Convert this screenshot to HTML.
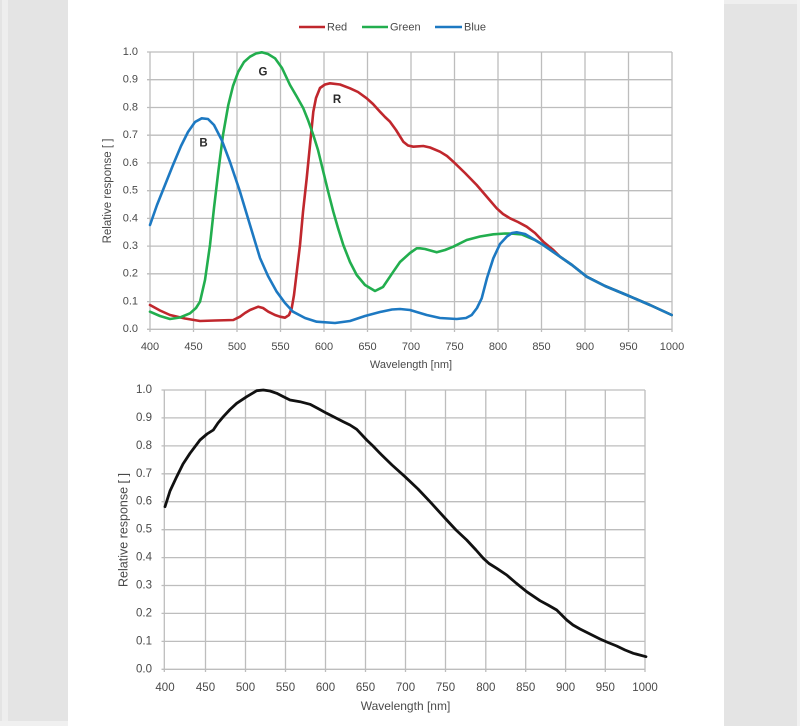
<!DOCTYPE html>
<html><head><meta charset="utf-8"><style>
html,body{margin:0;padding:0;background:#fff;}
svg{display:block;}
text{font-family:"Liberation Sans",Arial,sans-serif;fill:#4a4a4a;}
</style></head><body>
<svg width="800" height="726" viewBox="0 0 800 726" xmlns="http://www.w3.org/2000/svg">
<rect x="0" y="0" width="800" height="726" fill="#fff"/>
<!-- side bars -->
<rect x="0" y="0" width="68" height="726" fill="#e4e4e4"/>
<rect x="2" y="0" width="6" height="726" fill="#eeeeee"/>
<rect x="0" y="721" width="68" height="5" fill="#f0f0f0"/>
<rect x="724" y="0" width="76" height="726" fill="#e4e4e4"/>
<rect x="724" y="0" width="76" height="4" fill="#efefef"/>
<rect x="797" y="0" width="3" height="726" fill="#f2f2f2"/>

<!-- TOP CHART grid -->
<g stroke="#bdbdbd" stroke-width="1.3" fill="none">
<line x1="147" y1="52" x2="672" y2="52"/>
<line x1="147" y1="79.7" x2="672" y2="79.7"/>
<line x1="147" y1="107.5" x2="672" y2="107.5"/>
<line x1="147" y1="135.2" x2="672" y2="135.2"/>
<line x1="147" y1="162.9" x2="672" y2="162.9"/>
<line x1="147" y1="190.7" x2="672" y2="190.7"/>
<line x1="147" y1="218.4" x2="672" y2="218.4"/>
<line x1="147" y1="246.1" x2="672" y2="246.1"/>
<line x1="147" y1="273.8" x2="672" y2="273.8"/>
<line x1="147" y1="301.6" x2="672" y2="301.6"/>
<line x1="147" y1="329.3" x2="672" y2="329.3"/>
<line x1="150" y1="52" x2="150" y2="332"/>
<line x1="193.5" y1="52" x2="193.5" y2="332"/>
<line x1="237" y1="52" x2="237" y2="332"/>
<line x1="280.5" y1="52" x2="280.5" y2="332"/>
<line x1="324" y1="52" x2="324" y2="332"/>
<line x1="367.5" y1="52" x2="367.5" y2="332"/>
<line x1="411" y1="52" x2="411" y2="332"/>
<line x1="454.5" y1="52" x2="454.5" y2="332"/>
<line x1="498" y1="52" x2="498" y2="332"/>
<line x1="541.5" y1="52" x2="541.5" y2="332"/>
<line x1="585" y1="52" x2="585" y2="332"/>
<line x1="628.5" y1="52" x2="628.5" y2="332"/>
<line x1="672" y1="52" x2="672" y2="332"/>
</g>
<g font-size="11" text-anchor="end" dominant-baseline="middle">
<text x="138" y="52">1.0</text>
<text x="138" y="79.7">0.9</text>
<text x="138" y="107.5">0.8</text>
<text x="138" y="135.2">0.7</text>
<text x="138" y="162.9">0.6</text>
<text x="138" y="190.7">0.5</text>
<text x="138" y="218.4">0.4</text>
<text x="138" y="246.1">0.3</text>
<text x="138" y="273.8">0.2</text>
<text x="138" y="301.6">0.1</text>
<text x="138" y="329.3">0.0</text>
</g>
<g font-size="11" text-anchor="middle" dominant-baseline="middle">
<text x="150" y="347">400</text>
<text x="193.5" y="347">450</text>
<text x="237" y="347">500</text>
<text x="280.5" y="347">550</text>
<text x="324" y="347">600</text>
<text x="367.5" y="347">650</text>
<text x="411" y="347">700</text>
<text x="454.5" y="347">750</text>
<text x="498" y="347">800</text>
<text x="541.5" y="347">850</text>
<text x="585" y="347">900</text>
<text x="628.5" y="347">950</text>
<text x="672" y="347">1000</text>
<text x="411" y="365">Wavelength [nm]</text>
<text x="0" y="0" transform="translate(108,191) rotate(-90)" font-size="11.5">Relative response [ ]</text>
</g>
<!-- legend -->
<g stroke-width="2.6" fill="none">
<line x1="299" y1="27" x2="325" y2="27" stroke="#c0272d"/>
<line x1="362" y1="27" x2="388" y2="27" stroke="#22ae4e"/>
<line x1="435" y1="27" x2="462" y2="27" stroke="#1d79c2"/>
</g>
<g font-size="11" dominant-baseline="middle">
<text x="327" y="27.5">Red</text>
<text x="390" y="27.5">Green</text>
<text x="464" y="27.5">Blue</text>
</g>
<!-- curves -->
<g fill="none" stroke-width="2.6" stroke-linejoin="round" stroke-linecap="round">
<polyline stroke="#c0272d" points="150,305 160,310.5 170,315 185,318.5 200,321 215,320.5 233.3,320 240,316.7 245,313 250,310 258.3,306.7 263,308 268.3,311.7 275,315 280,316.7 285,317.7 289,315 291.7,308.3 294,295 297,270 300,245 303,212 306.7,178.3 310,145 313.3,111.7 316,98 320,88 325,84.5 330,83.3 340,84.5 350,88.3 358,92 366.7,98.3 373,104 380,111.7 385,117 390,121.7 396,130 403.3,141.7 408,145.5 413.3,146.7 423.3,146 430,147.5 440,151.7 447,156 453.3,161.7 465,173 476.7,185 487,197 496.7,208.3 503,214 510,218.3 518,222 526.7,226.7 535,233 543.3,241.7 553.3,250 560,256.7 572,265 586.7,276.7 605,286 626.7,295 650,305 671.7,315"/>
<polyline stroke="#22ae4e" points="150,311.7 160,316 170,319 180,317.5 190,313.3 196,308 200,301.7 205,280 210,245 214,208 218.3,171.7 223,135 228.3,105 233,86 238.3,71.7 244,62 250,56.7 256,53.5 261.7,52.3 268,54 275,58.3 282,68 290,85 297,97 303.3,108.3 308,120 313.3,135 318,150 323.3,171.7 328,191 333.3,211.7 338,228 343.3,245 350,262 356.7,275 365,285 375,291 383,287 393.3,271.7 400,262 410,253 416.7,248.3 420,248.3 425,249 436.7,252.3 445,250 453.3,246.7 466.7,240 480,236.5 493.3,234.3 505,233.5 513.3,233.7 522,234.5 535,240 543.3,245 560,256.7 572,265 586.7,276.7 605,286 626.7,295 650,305 671.7,315"/>
<polyline stroke="#1d79c2" points="150,225 157,205 165,185 173,165 181,146 188,132 195,122 201.7,118.3 208,119 214,125 221.7,140 230,162 240,191.7 250,225 260,258 268,276 276.7,291.7 285,303 293,311.7 305,318 316.7,321.7 335,323 350,321 365,316 380,312 392,309.5 400,309 410,310 426.7,315 440,318 456.7,319 466,318 471.7,315 477,308 481.7,298.3 487,278 493.3,258.3 500,244 506.7,236.7 512,233 516.7,232.3 525,234 535,240 543.3,245 560,256.7 572,265 586.7,276.7 605,286 626.7,295 650,305 671.7,315"/>
</g>
<g font-size="11.5" font-weight="bold" text-anchor="middle" dominant-baseline="middle">
<text x="263" y="72.5" style="fill:#2a2a2a">G</text>
<text x="337" y="100" style="fill:#2a2a2a">R</text>
<text x="203.5" y="143.5" style="fill:#2a2a2a">B</text>
</g>

<!-- BOTTOM CHART grid -->
<g stroke="#bdbdbd" stroke-width="1.3" fill="none">
<line x1="161.5" y1="390" x2="645" y2="390"/>
<line x1="161.5" y1="417.9" x2="645" y2="417.9"/>
<line x1="161.5" y1="445.9" x2="645" y2="445.9"/>
<line x1="161.5" y1="473.8" x2="645" y2="473.8"/>
<line x1="161.5" y1="501.7" x2="645" y2="501.7"/>
<line x1="161.5" y1="529.7" x2="645" y2="529.7"/>
<line x1="161.5" y1="557.6" x2="645" y2="557.6"/>
<line x1="161.5" y1="585.5" x2="645" y2="585.5"/>
<line x1="161.5" y1="613.4" x2="645" y2="613.4"/>
<line x1="161.5" y1="641.4" x2="645" y2="641.4"/>
<line x1="161.5" y1="669.3" x2="645" y2="669.3"/>
<line x1="164.3" y1="390" x2="164.3" y2="672"/>
<line x1="205.5" y1="390" x2="205.5" y2="672"/>
<line x1="245.5" y1="390" x2="245.5" y2="672"/>
<line x1="285.5" y1="390" x2="285.5" y2="672"/>
<line x1="325.5" y1="390" x2="325.5" y2="672"/>
<line x1="365.5" y1="390" x2="365.5" y2="672"/>
<line x1="405.5" y1="390" x2="405.5" y2="672"/>
<line x1="445.5" y1="390" x2="445.5" y2="672"/>
<line x1="485.8" y1="390" x2="485.8" y2="672"/>
<line x1="525.7" y1="390" x2="525.7" y2="672"/>
<line x1="565.6" y1="390" x2="565.6" y2="672"/>
<line x1="605.3" y1="390" x2="605.3" y2="672"/>
<line x1="645" y1="390" x2="645" y2="672"/>
</g>
<g font-size="11.5" text-anchor="end" dominant-baseline="middle">
<text x="152" y="390">1.0</text>
<text x="152" y="417.9">0.9</text>
<text x="152" y="445.9">0.8</text>
<text x="152" y="473.8">0.7</text>
<text x="152" y="501.7">0.6</text>
<text x="152" y="529.7">0.5</text>
<text x="152" y="557.6">0.4</text>
<text x="152" y="585.5">0.3</text>
<text x="152" y="613.4">0.2</text>
<text x="152" y="641.4">0.1</text>
<text x="152" y="669.3">0.0</text>
</g>
<g font-size="11.5" text-anchor="middle" dominant-baseline="middle">
<text x="165" y="688">400</text>
<text x="205.5" y="688">450</text>
<text x="245.5" y="688">500</text>
<text x="285.5" y="688">550</text>
<text x="325.5" y="688">600</text>
<text x="365.5" y="688">650</text>
<text x="405.5" y="688">700</text>
<text x="445.5" y="688">750</text>
<text x="485.8" y="688">800</text>
<text x="525.7" y="688">850</text>
<text x="565.6" y="688">900</text>
<text x="605.3" y="688">950</text>
<text x="645" y="688">1000</text>
<text x="405.5" y="707" font-size="12">Wavelength [nm]</text>
<text x="0" y="0" transform="translate(124,530) rotate(-90)" font-size="12.5">Relative response [ ]</text>
</g>
<polyline fill="none" stroke="#111" stroke-width="2.8" stroke-linejoin="round" stroke-linecap="round" points="165,506.7 170,491 176.7,476.7 183,464 190,453.3 200,440 207,434 213.3,430 218,423 223.3,416.7 230,409.5 236.7,403.3 246.7,396.7 256.7,390.7 263.3,390 270,391 276.7,393.3 283,396.5 290,400 300,401.7 310,404.3 318,408.5 326.7,413.3 335,417.5 343.3,421.7 350,425 356.7,429.3 366.7,440 373,446 380,453.3 392,465 405,476.7 418,489 430,501.7 446.7,520 456,530 466.7,540 476,550 483.3,558.3 489,563.5 496.7,568.3 506.7,575 516,583 526.7,591.7 540,600.7 548,605 556.7,610 566.7,620 573,625 580,629 590,634 600,639 608,642.5 616.7,646 625,650 633.3,653.3 646,656.7"/>
</svg>
</body></html>
